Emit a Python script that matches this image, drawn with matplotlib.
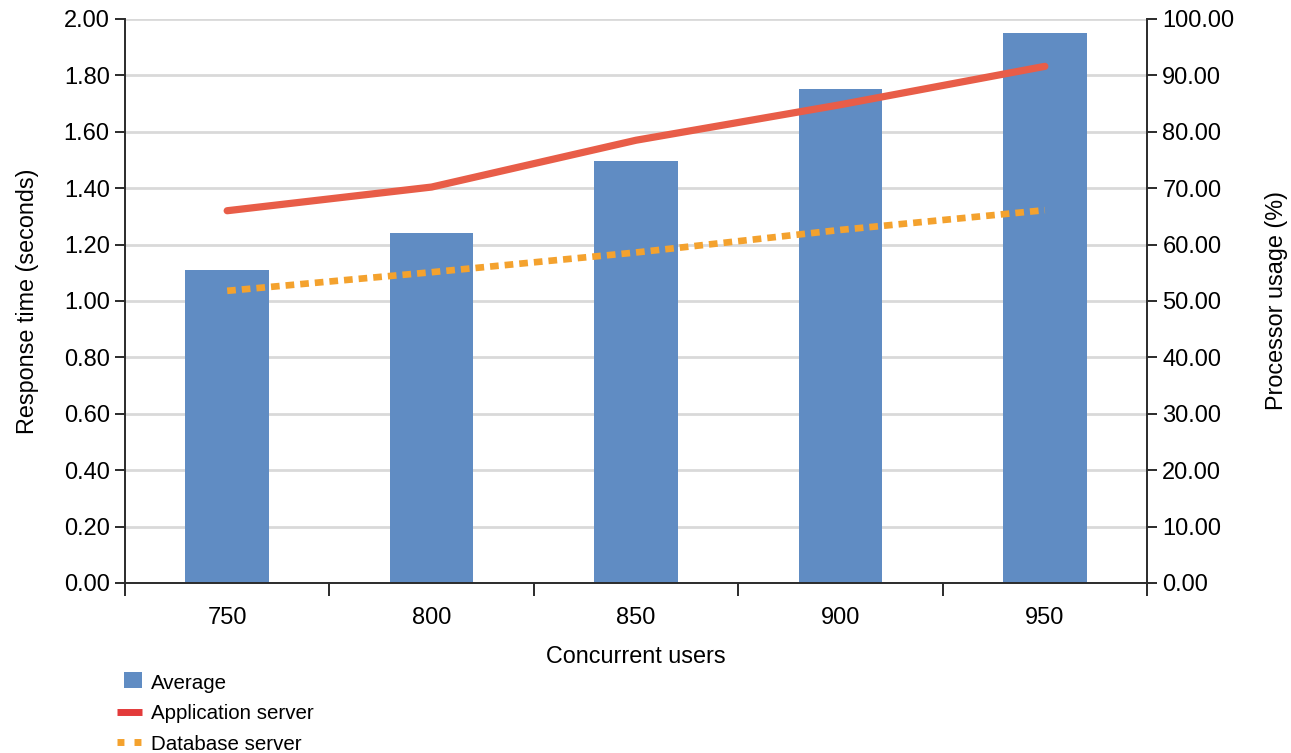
import matplotlib
matplotlib.use("Agg")
import matplotlib.pyplot as plt
import matplotlib.patches as mpatches
from matplotlib.lines import Line2D
from matplotlib.legend_handler import HandlerPatch
import numpy as np

plt.rcParams["font.family"] = ["Liberation Sans", "DejaVu Sans"]

USERS = ["750", "800", "850", "900", "950"]
AVG_RESPONSE = [1.11, 1.24, 1.495, 1.75, 1.95]
APP_SERVER_CPU = [66.0, 70.2, 78.5, 84.8, 91.6]
DB_SERVER_CPU = [51.8, 55.1, 58.6, 62.6, 66.1]

BAR_COLOR = "#608cc3"
APP_COLOR = "#e85d48"
DB_COLOR = "#f4a22e"
SPINE_COLOR = "#2b2b2b"
GRID_COLOR = "#d9d9d9"
TICK_FS = 17
LABEL_FS = 16.8
LEGEND_FS = 14.8

fig = plt.figure(figsize=(12.91, 7.53), dpi=100)
ax = fig.add_axes([0.0968, 0.2258, 0.7917, 0.749])
ax2 = ax.twinx()

x = np.arange(len(USERS))
ax.bar(x, AVG_RESPONSE, width=0.41, color=BAR_COLOR, zorder=2)
ax.set_xlim(-0.5, len(USERS) - 0.5)
ax.set_ylim(0, 2.0)
ax.set_yticks(np.arange(0, 2.01, 0.2))
ax.set_yticklabels([f"{v:.2f}" for v in np.arange(0, 2.01, 0.2)])
ax.yaxis.grid(True, color=GRID_COLOR, linewidth=2.0)
ax.set_axisbelow(True)

# category separators as x ticks, labels at the centres
ax.set_xticks(np.arange(-0.5, len(USERS), 1.0))
ax.set_xticklabels([])
ax.set_xticks(x, minor=True)
ax.set_xticklabels(USERS, minor=True)
ax.tick_params(axis="x", which="major", direction="out", length=9, width=1.4, color=SPINE_COLOR)
ax.tick_params(axis="x", which="minor", length=0, pad=17, labelsize=TICK_FS)
ax.tick_params(axis="y", direction="out", length=7, width=1.4, color=SPINE_COLOR,
               labelsize=TICK_FS, pad=4)

ax2.plot(x, APP_SERVER_CPU, color=APP_COLOR, linewidth=5.2, solid_capstyle="round", zorder=3)
ax2.plot(x, DB_SERVER_CPU, color=DB_COLOR, linewidth=4.8, linestyle=(0, (1.3, 0.9)),
         dash_capstyle="butt", zorder=3)
ax2.set_ylim(0, 100)
ax2.set_yticks(np.arange(0, 100.1, 10))
ax2.set_yticklabels([f"{v:.2f}" for v in np.arange(0, 100.1, 10)])
ax2.tick_params(axis="y", direction="out", length=7, width=1.4, color=SPINE_COLOR,
                labelsize=TICK_FS, pad=4)

for a in (ax, ax2):
    a.spines["top"].set_visible(False)
    for side in ("left", "right", "bottom"):
        a.spines[side].set_color(SPINE_COLOR)
        a.spines[side].set_linewidth(1.4)
ax.spines["right"].set_visible(False)
ax2.spines["left"].set_visible(False)
ax2.spines["bottom"].set_visible(False)

ax.set_ylabel("Response time (seconds)", fontsize=LABEL_FS, labelpad=18)
ax2.set_ylabel("Processor usage (%)", fontsize=LABEL_FS, labelpad=22)
ax.set_xlabel("Concurrent users", fontsize=LABEL_FS, labelpad=12)


def small_square(legend, orig_handle, xdescent, ydescent, width, height, fontsize):
    side = height
    return mpatches.Rectangle((xdescent + width - side * 1.15, ydescent), side * 1.15, side)


handles = [
    mpatches.Patch(facecolor=BAR_COLOR, edgecolor="none", label="Average"),
    Line2D([], [], color="#e33a3a", linewidth=5, solid_capstyle="butt", label="Application server"),
    Line2D([], [], color=DB_COLOR, linewidth=5, linestyle=(0, (1.0, 1.45)),
           dash_capstyle="butt", label="Database server"),
]
fig.legend(handles=handles, loc="upper left", bbox_to_anchor=(0.0906, 0.105),
           frameon=False, fontsize=LEGEND_FS, handlelength=1.2, handleheight=0.8,
           labelspacing=0.55, handletextpad=0.44, borderaxespad=0, borderpad=0,
           handler_map={mpatches.Patch: HandlerPatch(patch_func=small_square)})

fig.savefig("out.png", dpi=100)
